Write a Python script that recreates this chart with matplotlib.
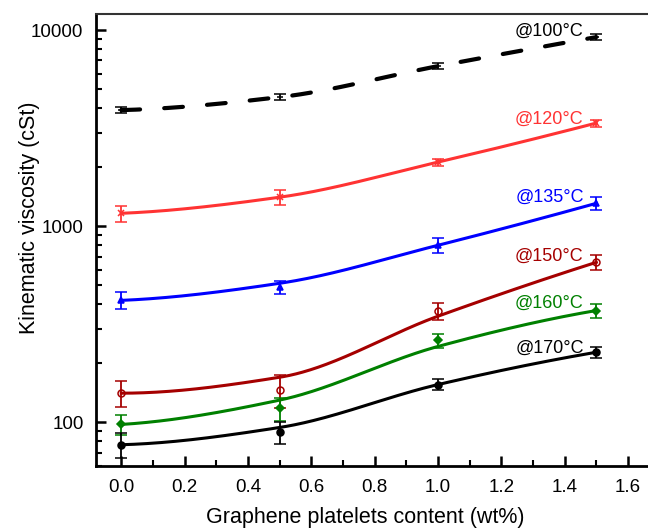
import numpy as np
import matplotlib
matplotlib.use("Agg")
from matplotlib import pyplot as plt
from matplotlib.ticker import LogLocator, MultipleLocator, NullFormatter

plt.rcParams['font.family'] = ['Liberation Sans', 'DejaVu Sans']

# graphene content (wt%)
content = [0.0, 0.5, 1.0, 1.5]

temps = ['@100°C', '@120°C', '@135°C', '@150°C', '@160°C', '@170°C']
colors = ['black', '#ff3333', '#0000ff', '#a50000', '#008000', 'black']
markers = ['_', 'x', '^', 'o', 'D', 'o']

# measured viscosity (cSt)
visc_100 = [3908, 4550, 6546, 9204]
visc_120 = [1164, 1406, 2123, 3357]
visc_135 = [419, 489, 800, 1309]
visc_150 = [141, 147, 368, 655]
visc_160 = [97.7, 118, 262, 372]
visc_170 = [77, 89, 156, 228]

# error bars (cSt)
err_100 = [140, 165, 235, 330]
err_120 = [108, 121, 85, 134]
err_135 = [41, 39, 69, 105]
err_150 = [21, 28, 36, 56]
err_160 = [11, 16, 22, 30]
err_170 = [11, 11, 10, 14]

# fitted curve values at the same contents
fit_100 = [3908, 4550, 6546, 9204]
fit_120 = [1164, 1406, 2123, 3357]
fit_135 = [419, 512, 800, 1309]
fit_150 = [141, 170, 348, 655]
fit_160 = [97.7, 130, 244, 372]
fit_170 = [77, 94.3, 156, 228]

visc = [visc_100, visc_120, visc_135, visc_150, visc_160, visc_170]
errs = [err_100, err_120, err_135, err_150, err_160, err_170]
fits = [fit_100, fit_120, fit_135, fit_150, fit_160, fit_170]

# label heights (cSt)
label_y = [9900, 3500, 1400, 700, 405, 238]


def pchip(x, y, xs):
    # monotone cubic (Fritsch-Carlson) for a smooth fit line
    x = np.asarray(x, float)
    y = np.asarray(y, float)
    h = np.diff(x)
    dl = np.diff(y) / h
    d = np.zeros_like(y)
    for k in range(1, len(x) - 1):
        if dl[k - 1] * dl[k] > 0:
            w1 = 2 * h[k] + h[k - 1]
            w2 = h[k] + 2 * h[k - 1]
            d[k] = (w1 + w2) / (w1 / dl[k - 1] + w2 / dl[k])
    for k, (a, b, hh) in [(0, (dl[0], dl[1], h)), (-1, (dl[-1], dl[-2], h[::-1]))]:
        e = ((2 * hh[0] + hh[1]) * a - hh[0] * b) / (hh[0] + hh[1])
        if np.sign(e) != np.sign(a):
            e = 0
        elif np.sign(a) != np.sign(b) and abs(e) > abs(3 * a):
            e = 3 * a
        d[k] = e
    idx = np.clip(np.searchsorted(x, xs) - 1, 0, len(x) - 2)
    t = (xs - x[idx]) / h[idx]
    h00 = 2 * t**3 - 3 * t**2 + 1
    h10 = t**3 - 2 * t**2 + t
    h01 = -2 * t**3 + 3 * t**2
    h11 = t**3 - t**2
    return h00 * y[idx] + h10 * h[idx] * d[idx] + h01 * y[idx + 1] + h11 * h[idx] * d[idx + 1]


fig = plt.figure(figsize=(6.48, 5.30), dpi=100)
ax = fig.add_axes([96 / 648, 64 / 530, 570 / 648, 452 / 530])

xs = np.linspace(0, 1.5, 300)
for i in range(len(temps)):
    c = colors[i]
    ys = 10 ** pchip(content, np.log10(fits[i]), xs)
    if i == 0:
        ax.plot(xs, ys, color=c, lw=3, dashes=(4.5, 5.8), dash_capstyle='round', zorder=2)
    else:
        ax.plot(xs, ys, color=c, lw=2.2, zorder=2)
    mfc = 'none' if i == 3 else c
    ms = 5 if markers[i] != 'D' else 4
    ax.errorbar(content, visc[i], yerr=errs[i], fmt=markers[i], color=c,
                mfc=mfc, ms=ms, mew=1.1, elinewidth=1.3, capsize=4,
                capthick=1.3, zorder=3)
    ax.text(1.46, label_y[i], temps[i], color=c, fontsize=13,
            ha='right', va='center')

ax.set_yscale('log')
ax.set_xlim(-0.08, 1.72)
ax.set_ylim(60, 12070)
ax.xaxis.set_major_locator(MultipleLocator(0.2))
ax.xaxis.set_minor_locator(MultipleLocator(0.1))
ax.yaxis.set_minor_locator(LogLocator(base=10, subs=np.arange(2, 10), numticks=10))
ax.yaxis.set_minor_formatter(NullFormatter())
ax.set_yticks([100, 1000, 10000])
ax.set_yticklabels(['100', '1000', '10000'])
ax.set_xticks([0, 0.2, 0.4, 0.6, 0.8, 1.0, 1.2, 1.4, 1.6])
ax.set_xticklabels(['0.0', '0.2', '0.4', '0.6', '0.8', '1.0', '1.2', '1.4', '1.6'])

ax.tick_params(which='major', direction='in', length=7, width=1.8, labelsize=13.5)
ax.tick_params(axis='x', which='major', pad=9)
ax.tick_params(axis='y', which='major', pad=9)
ax.tick_params(which='minor', direction='in', length=4, width=1.5)
ax.tick_params(axis='x', which='both', top=False)
ax.tick_params(axis='y', which='both', right=False)
for s in ['left', 'bottom']:
    ax.spines[s].set_linewidth(2)
ax.spines['top'].set_linewidth(1.5)
ax.spines['top'].set_color('#333333')
ax.spines['right'].set_visible(False)

ax.set_xlabel('Graphene platelets content (wt%)', fontsize=15.5)
ax.set_ylabel('Kinematic viscosity (cSt)', fontsize=15.5)
ax.xaxis.set_label_coords((365 - 96) / 570, -(517 - 466) / 452)
ax.yaxis.set_label_coords(-(96 - 40) / 570, 0.55)
ax.xaxis.label.set_va('center')

plt.savefig('out.png', dpi=100)
